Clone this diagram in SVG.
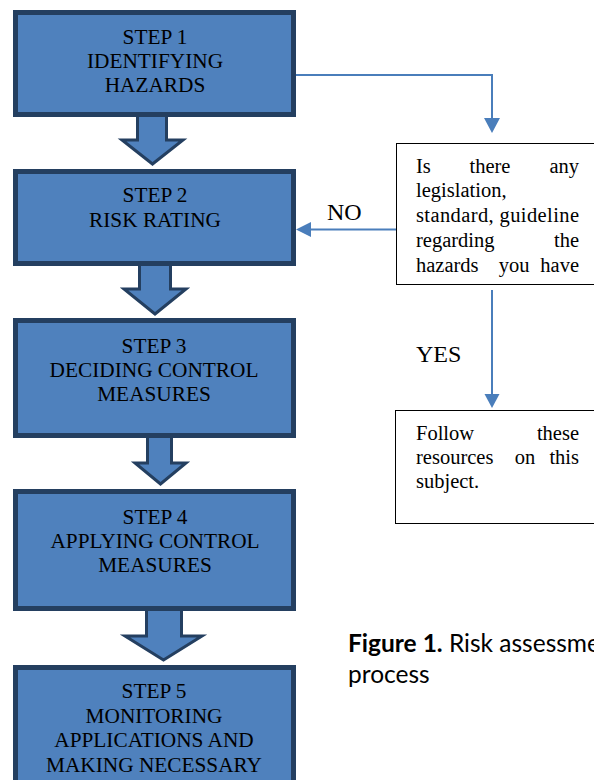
<svg xmlns="http://www.w3.org/2000/svg" width="594" height="780" viewBox="0 0 594 780">
<defs>
<style>
.step{fill:#4F81BD;stroke:#243F60;stroke-width:5}
.blk{fill:#4F81BD;stroke:#243F60;stroke-width:3;stroke-linejoin:miter}
.st{font-family:"Liberation Serif","Times New Roman",serif;font-size:21.3px;fill:#000;text-anchor:middle}
.bx{fill:#fff;stroke:#000;stroke-width:1}
.tx{font-family:"Liberation Serif","Times New Roman",serif;font-size:20.5px;fill:#000}
.lbl{font-family:"Liberation Serif","Times New Roman",serif;font-size:24px;fill:#000}
.ln{fill:none;stroke:#4A7EBB;stroke-width:2}
.ah{fill:#4A7EBB}
.cap{font-family:Lato,"Noto Sans",sans-serif;font-size:24.5px;fill:#000}
</style>
</defs>
<rect width="594" height="780" fill="#fff"/>
<g id="connectors">
<polygon class="blk" points="137.5,112 166.5,112 166.5,140 183,140 152.5,164 122,140 137.5,140"/>
<polygon class="blk" points="139.5,262 170.5,262 170.5,289 186,289 155,314 124,289 139.5,289"/>
<polygon class="blk" points="147.5,434 171.5,434 171.5,463 186,463 160.5,484 135,463 147.5,463"/>
<polygon class="blk" points="146.5,606 181.5,606 181.5,636 202,636 163.5,660 125,636 146.5,636"/>
<polyline class="ln" points="296,75 492,75 492,119"/>
<polygon class="ah" points="484,118 500,118 492,133"/>
<line class="ln" x1="396" y1="229.5" x2="310" y2="229.5"/>
<polygon class="ah" points="311,222 311,237 296,229.5"/>
<line class="ln" x1="492" y1="290" x2="492" y2="395"/>
<polygon class="ah" points="484.5,394 499.5,394 492,408"/>
<text class="lbl" x="327" y="220">NO</text>
<text class="lbl" x="416" y="362">YES</text>
</g>
<g id="step1">
<rect class="step" x="15.5" y="12.5" width="278" height="102"/>
<text class="st" x="155" y="44">STEP 1</text>
<text class="st" x="155" y="68">IDENTIFYING</text>
<text class="st" x="155" y="92">HAZARDS</text>
</g>
<g id="step2">
<rect class="step" x="15.5" y="171.5" width="278" height="92"/>
<text class="st" x="155" y="202">STEP 2</text>
<text class="st" x="155" y="227">RISK RATING</text>
</g>
<g id="step3">
<rect class="step" x="15.5" y="320.5" width="278" height="115"/>
<text class="st" x="154" y="353">STEP 3</text>
<text class="st" x="154" y="377">DECIDING CONTROL</text>
<text class="st" x="154" y="401">MEASURES</text>
</g>
<g id="step4">
<rect class="step" x="15.5" y="491.5" width="278" height="117"/>
<text class="st" x="155" y="524">STEP 4</text>
<text class="st" x="155" y="548">APPLYING CONTROL</text>
<text class="st" x="155" y="572">MEASURES</text>
</g>
<g id="step5">
<rect class="step" x="15.5" y="667.5" width="278" height="140"/>
<text class="st" x="154" y="698">STEP 5</text>
<text class="st" x="154" y="723">MONITORING</text>
<text class="st" x="154" y="747">APPLICATIONS AND</text>
<text class="st" x="154" y="772">MAKING NECESSARY</text>
</g>
<g id="question">
<rect class="bx" x="396.5" y="143.5" width="250" height="141"/>
<text class="tx" x="416" y="173">Is</text>
<text class="tx" x="490" y="173" text-anchor="middle">there</text>
<text class="tx" x="579" y="173" text-anchor="end">any</text>
<text class="tx" x="416" y="197">legislation,</text>
<text class="tx" x="416" y="222" textLength="163" lengthAdjust="spacing">standard, guideline</text>
<text class="tx" x="416" y="247">regarding</text>
<text class="tx" x="579" y="247" text-anchor="end">the</text>
<text class="tx" x="416" y="272">hazards</text>
<text class="tx" x="514" y="272" text-anchor="middle">you</text>
<text class="tx" x="579" y="272" text-anchor="end">have</text>
</g>
<g id="follow">
<rect class="bx" x="395.5" y="410.5" width="250" height="113"/>
<text class="tx" x="416" y="440">Follow</text>
<text class="tx" x="579" y="440" text-anchor="end">these</text>
<text class="tx" x="416" y="464">resources</text>
<text class="tx" x="525" y="464" text-anchor="middle">on</text>
<text class="tx" x="579" y="464" text-anchor="end">this</text>
<text class="tx" x="416" y="488">subject.</text>
</g>
<g id="caption">
<text class="cap" x="348" y="652"><tspan font-weight="bold">Figure 1.</tspan> Risk assessment</text>
<text class="cap" x="348" y="683">process</text>
</g>
</svg>
